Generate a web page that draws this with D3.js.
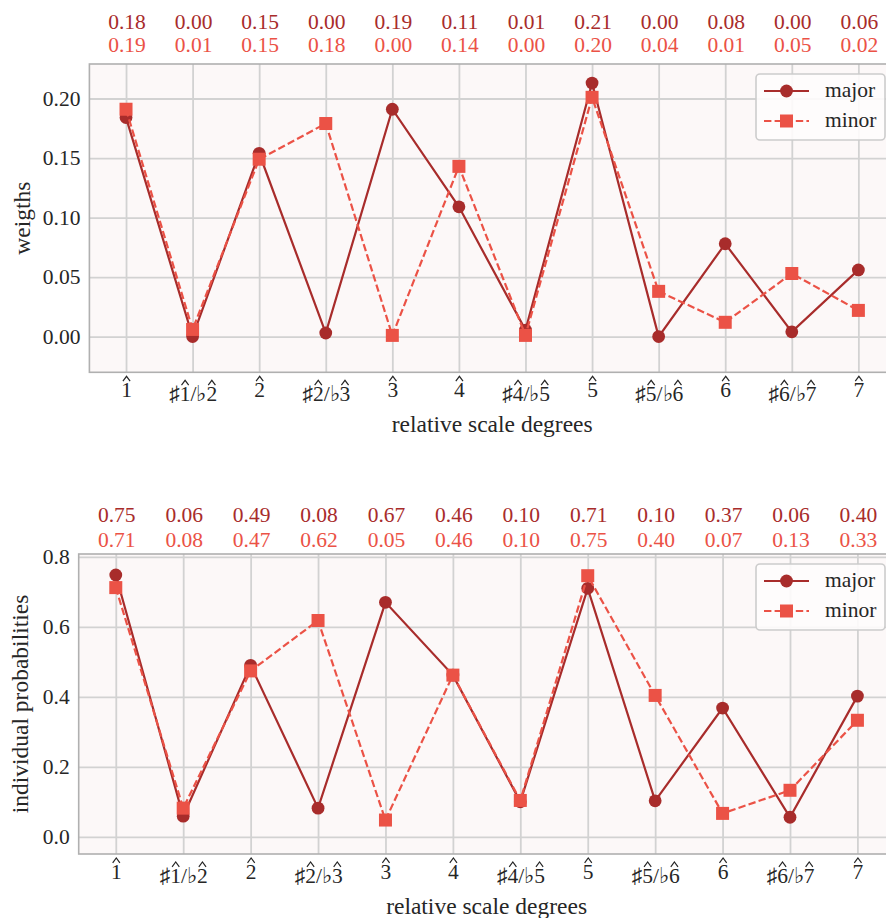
<!DOCTYPE html>
<html>
<head>
<meta charset="utf-8">
<script src="https://cdn.jsdelivr.net/npm/d3@7"></script>
<style>
  html, body { margin: 0; padding: 0; background: #ffffff; }
  svg { display: block; }
  text { font-family: "Liberation Serif", "DejaVu Serif", serif; }
</style>
</head>
<body>
<svg id="chart" width="886" height="918"></svg>
<script>
// Scale degree categories (relative to the tonic); U+0302 marks a hatted degree
const degrees = [
  "1\u0302", "\u266F1\u0302/\u266D2\u0302", "2\u0302", "\u266F2\u0302/\u266D3\u0302",
  "3\u0302", "4\u0302", "\u266F4\u0302/\u266D5\u0302", "5\u0302",
  "\u266F5\u0302/\u266D6\u0302", "6\u0302", "\u266F6\u0302/\u266D7\u0302", "7\u0302"
];

// Profile weights
const weightsMajor = [0.184, 0.000, 0.154, 0.003, 0.191, 0.109, 0.0055, 0.213, 0.000, 0.078, 0.004, 0.056];
const weightsMinor = [0.191, 0.006, 0.149, 0.179, 0.001, 0.143, 0.001, 0.201, 0.038, 0.012, 0.053, 0.022];

// Individual probabilities
const probMajor = [0.748, 0.059, 0.490, 0.082, 0.670, 0.462, 0.100, 0.710, 0.103, 0.368, 0.056, 0.402];
const probMinor = [0.712, 0.082, 0.474, 0.618, 0.048, 0.462, 0.104, 0.746, 0.404, 0.067, 0.133, 0.333];

const weightTicks = [0.00, 0.05, 0.10, 0.15, 0.20];
const probTicks = [0.0, 0.2, 0.4, 0.6, 0.8];

const seriesNames = ["major", "minor"];
const colorMajor = "#a82c2b";
const colorMinor = "#eb5246";
const inkColor = "#262626";
const tickFont = 21.5;
const labelFont = 23.5;

const svg = d3.select("#chart");

// Split a degree label into plain text and the indices of hatted characters
function parseDegree(label) {
  let plain = "";
  const hats = [];
  for (const ch of label) {
    if (ch === "\u0302") hats.push(plain.length - 1);
    else plain += ch;
  }
  return { plain, hats };
}

function drawPanel(cfg) {
  const x = d3.scaleLinear().domain([-0.55, degrees.length - 1 + 0.55]).range([cfg.left, cfg.right]);
  const y = d3.scaleLinear().domain(cfg.yDomain).range([cfg.bottom, cfg.top]);
  const g = svg.append("g");

  // plotting area background
  g.append("rect")
    .attr("x", cfg.left).attr("y", cfg.top)
    .attr("width", cfg.right - cfg.left).attr("height", cfg.bottom - cfg.top)
    .attr("fill", "#fcf8f8");

  // grid lines
  const gridX = g.append("g")
    .attr("transform", `translate(0,${cfg.bottom})`)
    .call(d3.axisBottom(x).tickValues(d3.range(degrees.length)).tickSize(-(cfg.bottom - cfg.top)).tickFormat(""));
  const gridY = g.append("g")
    .attr("transform", `translate(${cfg.left},0)`)
    .call(d3.axisLeft(y).tickValues(cfg.yTicks).tickSize(-(cfg.right - cfg.left)).tickFormat(""));
  [gridX, gridY].forEach(a => {
    a.select(".domain").remove();
    a.selectAll(".tick line").attr("stroke", "#d2d2d2").attr("stroke-width", 1.8);
  });

  // frame
  g.append("rect")
    .attr("x", cfg.left).attr("y", cfg.top)
    .attr("width", cfg.right - cfg.left).attr("height", cfg.bottom - cfg.top)
    .attr("fill", "none").attr("stroke", "#b0b0b0").attr("stroke-width", 1.6);

  // y tick labels
  const yAxis = g.append("g")
    .attr("transform", `translate(${cfg.left - 9},0)`)
    .call(d3.axisLeft(y).tickValues(cfg.yTicks).tickSize(0).tickPadding(0).tickFormat(d3.format(cfg.yFormat)));
  yAxis.select(".domain").remove();
  yAxis.selectAll("text")
    .attr("font-size", tickFont).attr("fill", inkColor)
    .style("font-family", "'Liberation Serif', serif");

  // x tick labels: degree numbers with a circumflex drawn above each hatted digit
  const xAxis = g.append("g")
    .attr("transform", `translate(0,${cfg.bottom})`)
    .call(d3.axisBottom(x).tickValues(d3.range(degrees.length)).tickSize(0).tickPadding(0).tickFormat(""));
  xAxis.select(".domain").remove();
  xAxis.selectAll(".tick").each(function (i) {
    const tick = d3.select(this);
    tick.selectAll("text").remove();
    const { plain, hats } = parseDegree(degrees[i]);
    const compound = plain.length > 1;
    const baseY = compound ? 29 : 25;
    const t = tick.append("text")
      .attr("y", baseY).attr("text-anchor", "middle")
      .attr("font-size", tickFont).attr("fill", inkColor)
      .style("font-family", "'Liberation Serif', serif")
      .text(plain);
    const node = t.node();
    hats.forEach(ci => {
      const ext = node.getExtentOfChar(ci);
      const cx = ext.x + ext.width / 2;
      const top = baseY - tickFont * 0.68 - 1.6;
      tick.append("path")
        .attr("d", `M${cx - 3.6},${top} L${cx},${top - 4.8} L${cx + 3.6},${top}`)
        .attr("fill", "none").attr("stroke", inkColor).attr("stroke-width", 1.2)
        .attr("stroke-linejoin", "miter");
    });
  });

  // axis titles
  g.append("text")
    .attr("x", (cfg.left + cfg.right) / 2).attr("y", cfg.bottom + 60)
    .attr("text-anchor", "middle").attr("font-size", labelFont).attr("fill", inkColor)
    .text("relative scale degrees");
  g.append("text")
    .attr("transform", `translate(${cfg.yLabelX},${(cfg.top + cfg.bottom) / 2}) rotate(-90)`)
    .attr("text-anchor", "middle").attr("font-size", labelFont).attr("fill", inkColor)
    .text(cfg.yLabel);

  // value annotations above the plot
  const fmt = d3.format(".2f");
  g.selectAll(".annMajor").data(cfg.major).join("text")
    .attr("x", (d, i) => x(i) + 1).attr("y", cfg.annMajorY)
    .attr("text-anchor", "middle").attr("font-size", tickFont).attr("fill", colorMajor)
    .text(d => fmt(d));
  g.selectAll(".annMinor").data(cfg.minor).join("text")
    .attr("x", (d, i) => x(i) + 1).attr("y", cfg.annMinorY)
    .attr("text-anchor", "middle").attr("font-size", tickFont).attr("fill", colorMinor)
    .text(d => fmt(d));

  const line = d3.line().x((d, i) => x(i)).y(d => y(d));

  // major series
  g.append("path").datum(cfg.major)
    .attr("d", line).attr("fill", "none")
    .attr("stroke", colorMajor).attr("stroke-width", 2.2);
  g.selectAll(".ptMajor").data(cfg.major).join("circle")
    .attr("cx", (d, i) => x(i)).attr("cy", d => y(d)).attr("r", 6.4)
    .attr("fill", colorMajor);

  // minor series
  g.append("path").datum(cfg.minor)
    .attr("d", line).attr("fill", "none")
    .attr("stroke", colorMinor).attr("stroke-width", 2.2)
    .attr("stroke-dasharray", "7.4,3.2");
  const s = 13;
  g.selectAll(".ptMinor").data(cfg.minor).join("rect")
    .attr("x", (d, i) => x(i) - s / 2).attr("y", d => y(d) - s / 2)
    .attr("width", s).attr("height", s)
    .attr("fill", colorMinor);

  // legend
  const lx = 756, lw = 129, lh = 66, ly = cfg.top + 10;
  const lg = g.append("g");
  lg.append("rect")
    .attr("x", lx).attr("y", ly).attr("width", lw).attr("height", lh)
    .attr("rx", 4).attr("fill", "#fefcfc").attr("fill-opacity", 0.9)
    .attr("stroke", "#cccccc").attr("stroke-width", 1.6);
  seriesNames.forEach((name, k) => {
    const ry = ly + 17 + k * 30;
    const c = k === 0 ? colorMajor : colorMinor;
    lg.append("line")
      .attr("x1", lx + 8).attr("x2", lx + 53).attr("y1", ry).attr("y2", ry)
      .attr("stroke", c).attr("stroke-width", 2.2)
      .attr("stroke-dasharray", k === 0 ? null : "7.4,3.2");
    if (k === 0) {
      lg.append("circle").attr("cx", lx + 30.5).attr("cy", ry).attr("r", 6.4).attr("fill", c);
    } else {
      lg.append("rect").attr("x", lx + 30.5 - s / 2).attr("y", ry - s / 2)
        .attr("width", s).attr("height", s).attr("fill", c);
    }
    lg.append("text")
      .attr("x", lx + 69).attr("y", ry + 6)
      .attr("font-size", tickFont).attr("fill", inkColor)
      .text(name);
  });
}

drawPanel({
  left: 89.4, right: 895, top: 64, bottom: 372.3,
  yDomain: [-0.03, 0.229], yTicks: weightTicks, yFormat: ".2f",
  yLabel: "weigths", yLabelX: 30,
  major: weightsMajor, minor: weightsMinor,
  annMajorY: 29, annMinorY: 52
});

drawPanel({
  left: 78.7, right: 894.5, top: 554, bottom: 854,
  yDomain: [-0.049, 0.808], yTicks: probTicks, yFormat: ".1f",
  yLabel: "individual probabilities", yLabelX: 28,
  major: probMajor, minor: probMinor,
  annMajorY: 522, annMinorY: 547
});
</script>
</body>
</html>
